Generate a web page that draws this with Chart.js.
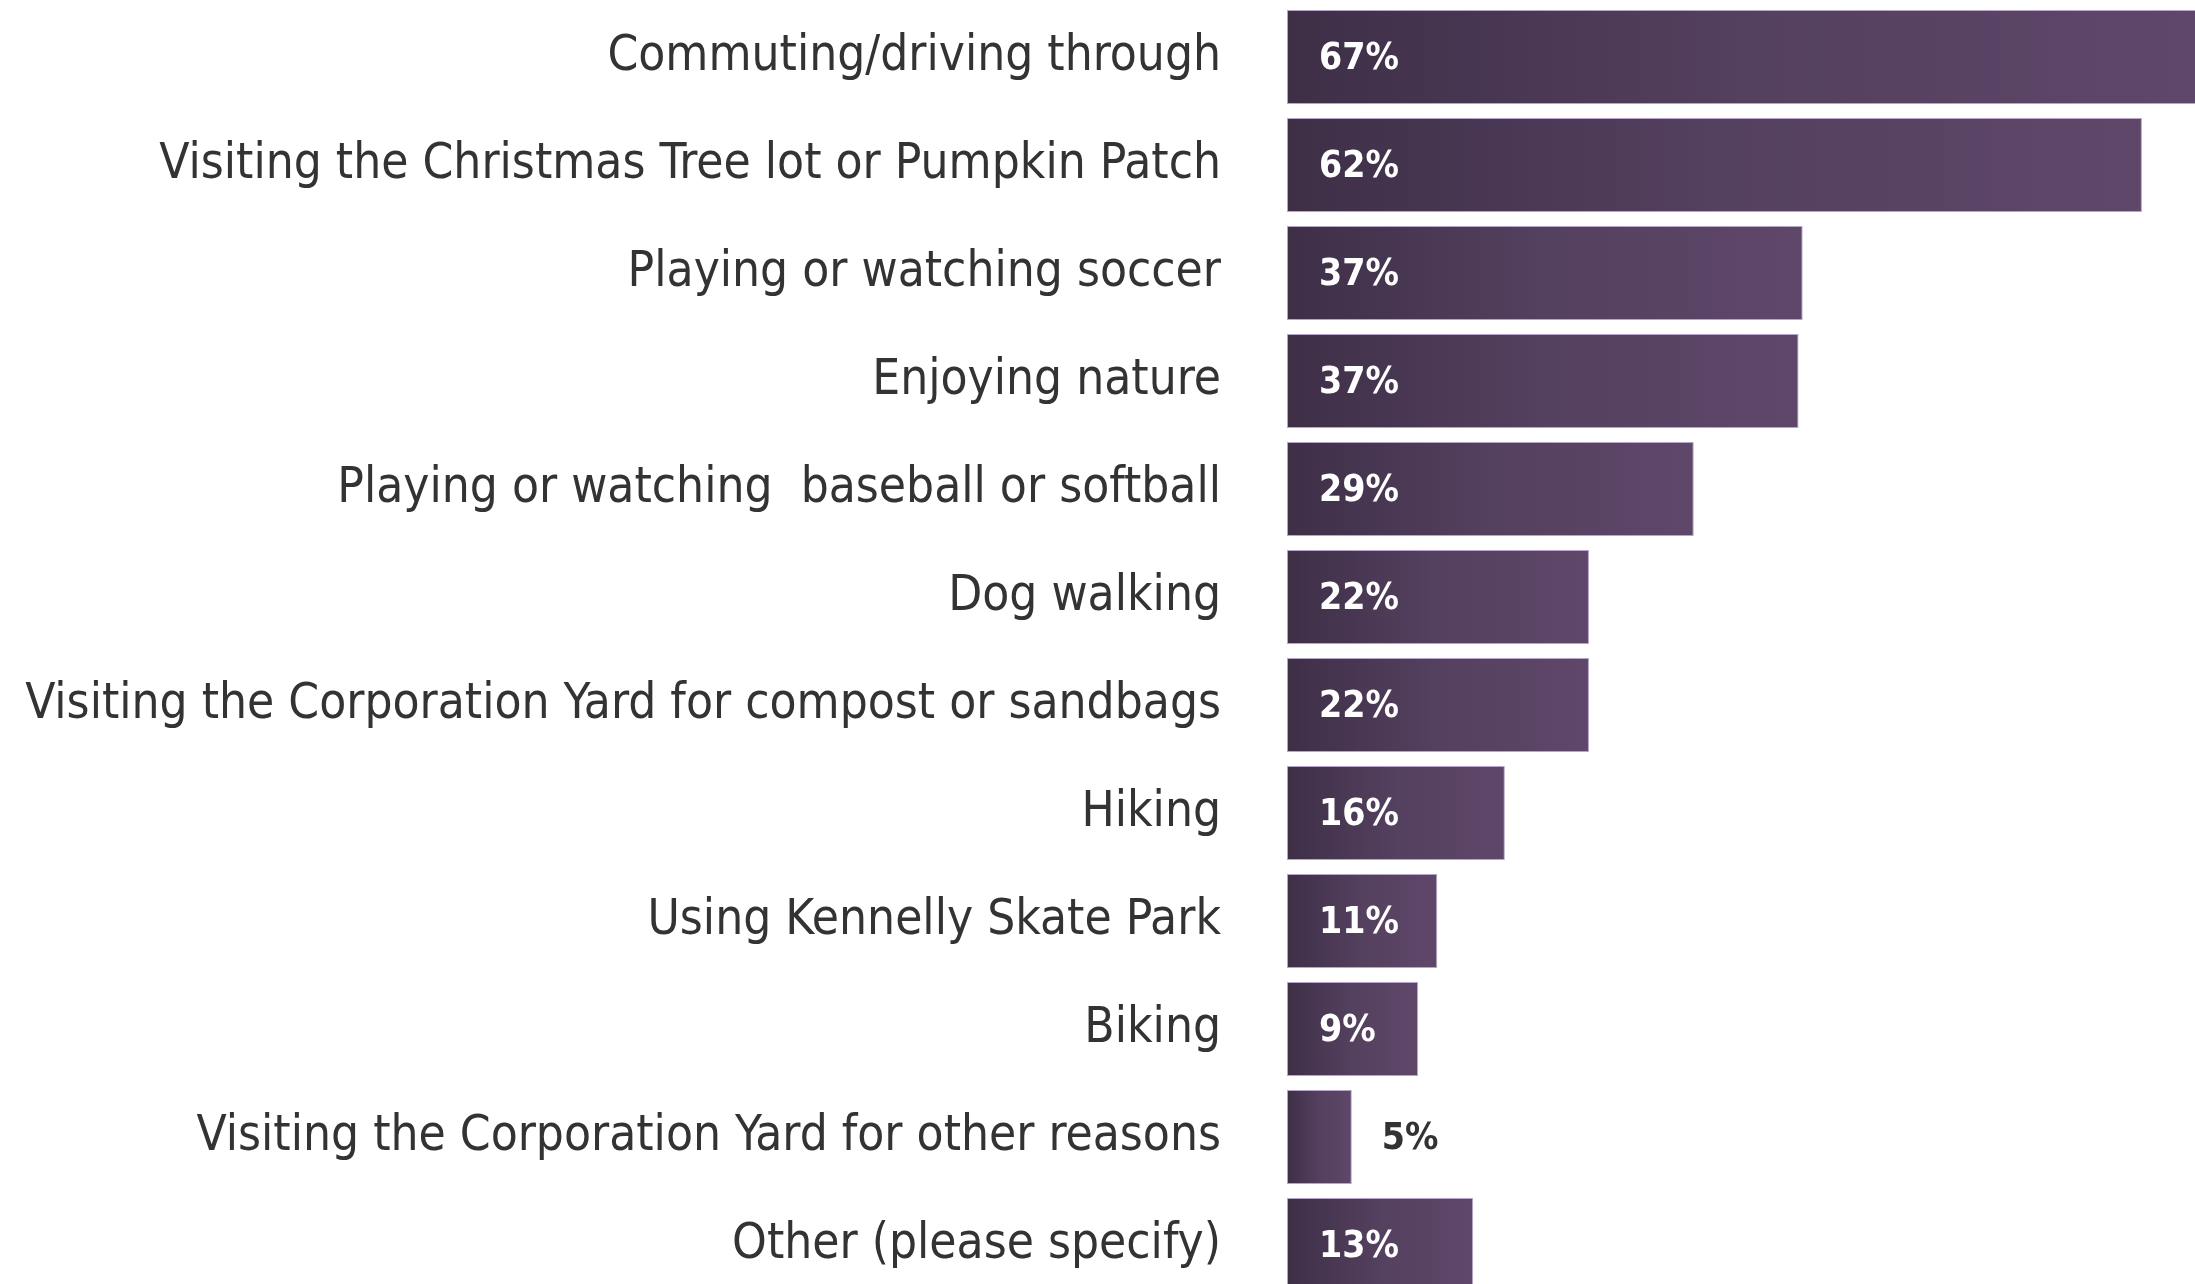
<!DOCTYPE html>
<html>
<head>
<meta charset="utf-8">
<script src="https://cdn.jsdelivr.net/npm/chart.js@4.4.1/dist/chart.umd.min.js"></script>
<style>
  html, body { margin: 0; padding: 0; background: #fff; overflow: hidden; }
  #wrap { position: relative; width: 2195px; height: 1284px; overflow: hidden; }
  #chart { position: absolute; left: 0; top: 0; }
</style>
</head>
<body>
<div id="wrap"><canvas id="chart" width="2195" height="1300"></canvas></div>
<script>
// kategórie a hodnoty odčítané z obrázka
const categories = [
  'Commuting/driving through',
  'Visiting the Christmas Tree lot or Pumpkin Patch',
  'Playing or watching soccer',
  'Enjoying nature',
  'Playing or watching  baseball or softball',
  'Dog walking',
  'Visiting the Corporation Yard for compost or sandbags',
  'Hiking',
  'Using Kennelly Skate Park',
  'Biking',
  'Visiting the Corporation Yard for other reasons',
  'Other (please specify)'
];
const values = [67, 62, 37.4, 37.1, 29.5, 21.9, 21.9, 15.8, 10.9, 9.5, 4.7, 13.5];
const valueLabels = ['67%', '62%', '37%', '37%', '29%', '22%', '22%', '16%', '11%', '9%', '5%', '13%'];

const labelFont = '"Liberation Sans Narrow", "DejaVu Sans Condensed", "Open Sans", sans-serif';

// veľkosť písma tak, aby najdlhší popisok mal šírku ako v predlohe (~1196 px)
function fitFontSize(text, family, targetWidth, weight) {
  const c = document.createElement('canvas').getContext('2d');
  c.font = (weight || 'normal') + ' 100px ' + family;
  return 100 * targetWidth / c.measureText(text).width;
}
const tickSize = Math.min(60, fitFontSize(categories[6], labelFont, 1196));
const valueSize = Math.min(46, fitFontSize('67%', labelFont, 80, 'bold'));

// gradient pre každý stĺpec zvlášť
function barGradient(ctx) {
  const chart = ctx.chart;
  const x = chart.scales.x;
  if (!chart.chartArea || !x) return '#4f3b5a';
  const x0 = x.getPixelForValue(0);
  const x1 = x.getPixelForValue(values[ctx.dataIndex]);
  const g = chart.ctx.createLinearGradient(x0, 0, x1, 0);
  g.addColorStop(0, '#3e2f47');
  g.addColorStop(0.5, '#54405f');
  g.addColorStop(1, '#5f4769');
  return g;
}

// popisky hodnôt v stĺpcoch
const valueLabelPlugin = {
  id: 'valueLabels',
  afterDatasetsDraw(chart) {
    const ctx = chart.ctx;
    const meta = chart.getDatasetMeta(0);
    ctx.save();
    ctx.font = 'bold ' + valueSize + 'px ' + labelFont;
    ctx.textBaseline = 'middle';
    ctx.textAlign = 'left';
    meta.data.forEach((bar, i) => {
      if (values[i] < 6) {
        ctx.fillStyle = '#333333';
        ctx.fillText(valueLabels[i], bar.x + 30, bar.y + 2);
      } else {
        ctx.fillStyle = '#ffffff';
        ctx.fillText(valueLabels[i], bar.base + 32, bar.y + 2);
      }
    });
    ctx.restore();
  }
};

new Chart(document.getElementById('chart'), {
  type: 'bar',
  data: {
    labels: categories,
    datasets: [{
      data: values,
      backgroundColor: barGradient,
      borderColor: 'rgba(175,155,195,0.9)',
      borderWidth: 1,
      borderSkipped: false,
      categoryPercentage: 1,
      barPercentage: 0.87
    }]
  },
  options: {
    indexAxis: 'y',
    responsive: false,
    animation: false,
    devicePixelRatio: 1,
    layout: { padding: { top: 3, bottom: 1, left: 0, right: 0 } },
    plugins: {
      legend: { display: false },
      tooltip: { enabled: false }
    },
    scales: {
      x: {
        display: false,
        min: 0,
        max: 65.85
      },
      y: {
        grid: { display: false, drawTicks: false },
        border: { display: false },
        afterFit(scale) {
          scale.width = 1287;
          // padding tickov by inak zmenšil výšku grafu
          scale.paddingTop = 0;
          scale.paddingBottom = 0;
        },
        ticks: {
          padding: 66,
          color: '#333333',
          font: { family: labelFont, size: tickSize }
        }
      }
    }
  },
  plugins: [valueLabelPlugin]
});
</script>
</body>
</html>
